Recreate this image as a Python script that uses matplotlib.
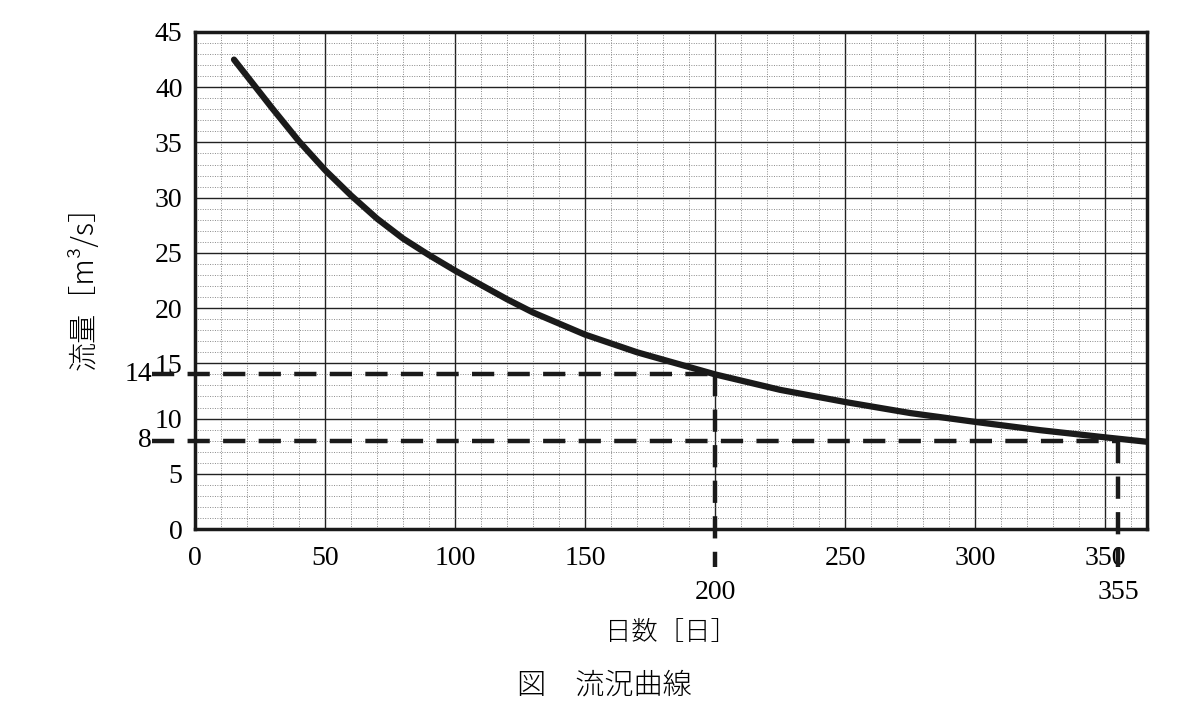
import numpy as np
import matplotlib.pyplot as plt
from matplotlib.ticker import MultipleLocator

# 流況曲線
days = [15, 20, 30, 40, 50, 60, 70, 80, 90, 100, 110, 120, 130, 140, 150,
        160, 170, 185, 200, 225, 250, 275, 300, 325, 350, 366]
flow = [42.5, 41.0, 38.0, 35.1, 32.5, 30.2, 28.1, 26.3, 24.8, 23.4, 22.1,
        20.8, 19.6, 18.6, 17.6, 16.8, 16.0, 15.0, 14.0, 12.6, 11.5, 10.5,
        9.7, 8.95, 8.3, 7.9]

x_ticks = [0, 50, 100, 150, 200, 250, 300, 350]
x_labels = ['0', '50', '100', '150', '', '250', '300', '350']
y_ticks = [0, 5, 10, 15, 20, 25, 30, 35, 40, 45]

# 読み取り用の補助線
mark_days = [200, 355]
mark_flow = [14, 8]

serif = ['Liberation Serif', 'Noto Sans CJK JP']
jp = ['Noto Sans CJK JP', 'Liberation Serif']

fig = plt.figure(figsize=(12, 7.27), dpi=100)
ax = fig.add_axes([0.1625, 0.2723, 0.7933, 0.6837])

ax.plot(days, flow, color='#1a1a1a', lw=4.5, solid_capstyle='round',
        solid_joinstyle='round', zorder=5)

ax.set_xlim(0, 366)
ax.set_ylim(0, 45)
ax.xaxis.set_minor_locator(MultipleLocator(10))
ax.yaxis.set_minor_locator(MultipleLocator(1))
ax.set_xticks(x_ticks)
ax.set_yticks(y_ticks)
ax.set_xticklabels(x_labels, family=serif, fontsize=20)
ax.set_yticklabels([str(v) for v in y_ticks], family=serif, fontsize=20)
ax.tick_params(axis='x', which='both', length=0, pad=12)
ax.tick_params(axis='y', which='both', length=0, pad=9)

ax.grid(which='major', color='#222222', lw=1.0)
ax.grid(which='minor', color='#8a8a8a', lw=0.7, ls=(0, (1, 1.5)))
ax.set_axisbelow(True)
for s in ax.spines.values():
    s.set_linewidth(2.5)
    s.set_color('#1a1a1a')

# 破線（軸外まで延長）
dash = dict(color='#1a1a1a', lw=3.2, ls=(0, (5, 3)), clip_on=False, zorder=4)
ax.plot([-16.5, mark_days[0]], [mark_flow[0], mark_flow[0]], **dash)
ax.plot([mark_days[0], mark_days[0]], [mark_flow[0], -3.4], **dash)
ax.plot([-16.5, mark_days[1]], [mark_flow[1], mark_flow[1]], **dash)
ax.plot([mark_days[1], mark_days[1]], [mark_flow[1], -3.4], **dash)

for v in mark_flow:
    ax.text(-16.5, v, str(v), ha='right', va='center',
            family=serif, fontsize=20, clip_on=False)
for d in mark_days:
    ax.text(d, -4.6, str(d), ha='center', va='top', family=serif,
            fontsize=20, clip_on=False)

ax.set_ylabel('流量［m³/s］', family=jp, fontsize=21, labelpad=40,
              fontweight='light')
ax.set_xlabel('日数［日］', family=jp, fontsize=19, labelpad=34,
              fontweight='light')

fig.text(0.504, 0.058, '図　流況曲線', ha='center', va='center', family=jp,
         fontsize=21, fontweight='light')

fig.savefig('out.png', dpi=100)
